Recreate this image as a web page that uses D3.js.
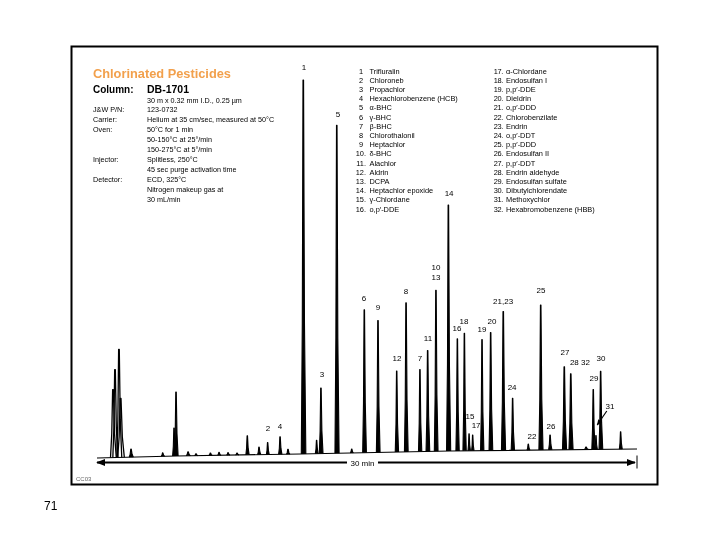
<!DOCTYPE html>
<html>
<head>
<meta charset="utf-8">
<script src="https://d3js.org/d3.v7.min.js"></script>
<style>
  body { margin: 0; background: #fff; }
  svg { will-change: transform; }
  text { font-family: Arial, "Liberation Sans", sans-serif; fill: #000; }
</style>
</head>
<body>
<div id="chart"></div>
<script>
// peaks: retention time (min), response above baseline, half width (min)
var peakTimes   = [0.89, 1.00, 1.22, 1.31, 1.89, 3.65, 4.28, 4.39, 5.06, 5.5, 6.3, 6.78, 7.28, 7.78,
                   8.35, 9.00, 9.48, 10.17, 10.61, 11.46, 12.20, 12.44, 13.32, 14.15, 14.85, 15.61,
                   16.65, 17.17, 17.94, 18.37, 18.83, 19.52, 20.02, 20.41, 20.67, 20.87, 21.39, 21.87,
                   22.57, 23.09, 23.96, 24.65, 25.17, 25.96, 26.32, 27.17, 27.57, 27.72, 27.98, 29.09];
var peakHeights = [68, 88, 108, 59, 8, 3.5, 28, 64, 4, 2, 2.5, 3, 2.5, 2,
                   19, 7.5, 12, 17.5, 5, 374, 13.5, 65.5, 328, 4, 143, 132,
                   81, 149, 82, 101, 161, 246, 112, 117.5, 17, 15.7, 111, 118,
                   139, 52, 6, 145, 15, 83, 76, 2.5, 60, 14, 78, 17.4];
var peakWidths  = [0.14, 0.12, 0.12, 0.16, 0.10, 0.08, 0.08, 0.09, 0.10, 0.08, 0.08, 0.08, 0.08, 0.08,
                   0.08, 0.08, 0.07, 0.08, 0.08, 0.11, 0.07, 0.09, 0.10, 0.07, 0.09, 0.09,
                   0.08, 0.09, 0.08, 0.09, 0.09, 0.10, 0.08, 0.08, 0.06, 0.06, 0.08, 0.09,
                   0.10, 0.08, 0.07, 0.10, 0.08, 0.10, 0.10, 0.10, 0.08, 0.06, 0.09, 0.07];
var solventEnd = 1.5; // solvent front, min

// baseline drift
var baseTimes  = [0, 4.4, 11.3, 19.6, 30];
var baseLevels = [0, 2, 4, 7, 9];

// peak labels (time, level)
var labelTexts  = ["1", "2", "4", "3", "5", "6", "9", "12", "8", "7", "11", "10", "13", "14", "16", "18",
                   "15", "17", "19", "20", "21,23", "24", "22", "25", "26", "27", "28 32", "29", "30", "31"];
var labelTimes  = [11.5, 9.5, 10.17, 12.5, 13.39, 14.83, 15.61, 16.67, 17.17, 17.94, 18.39, 18.83, 18.83, 19.56, 20.0, 20.39,
                   20.72, 21.06, 21.39, 21.94, 22.56, 23.06, 24.17, 24.67, 25.22, 26.0, 26.83, 27.61, 28.0, 28.5];
var labelLevels = [388, 27, 29, 81, 341, 157, 148, 97, 164, 97, 117, 188, 178, 262, 127, 134,
                   39, 30, 126, 134, 154, 68, 19, 165, 29, 103, 93, 77, 97, 49];
var arrowTimes  = [28.32, 27.79];
var arrowLevels = [47, 33];

var compoundNames = ["Trifluralin", "Chloroneb", "Propachlor", "Hexachlorobenzene (HCB)", "\u03b1-BHC", "\u03b3-BHC",
  "\u03b2-BHC", "Chlorothalonil", "Heptachlor", "\u03b4-BHC", "Alachlor", "Aldrin", "DCPA", "Heptachlor epoxide",
  "\u03b3-Chlordane", "o,p\u2032-DDE", "\u03b1-Chlordane", "Endosulfan I", "p,p\u2032-DDE", "Dieldrin", "o,p\u2032-DDD",
  "Chlorobenzilate", "Endrin", "o,p\u2032-DDT", "p,p\u2032-DDD", "Endosulfan II", "p,p\u2032-DDT", "Endrin aldehyde",
  "Endosulfan sulfate", "Dibutylchlorendate", "Methoxychlor", "Hexabromobenzene (HBB)"];

var infoKeys   = ["", "J&W P/N:", "Carrier:", "Oven:", "", "", "Injector:", "", "Detector:", "", ""];
var infoValues = ["30 m x 0.32 mm I.D., 0.25 \u00b5m", "123-0732", "Helium at 35 cm/sec, measured at 50\u00b0C",
  "50\u00b0C for 1 min", "50-150\u00b0C at 25\u00b0/min", "150-275\u00b0C at 5\u00b0/min", "Splitless, 250\u00b0C",
  "45 sec purge activation time", "ECD, 325\u00b0C", "Nitrogen makeup gas at", "30 mL/min"];

var runMinutes = 30;

var svg = d3.select("#chart").append("svg")
    .attr("width", 720)
    .attr("height", 540);

svg.append("rect")
    .attr("x", 71.5).attr("y", 46.5)
    .attr("width", 586).attr("height", 438)
    .style("fill", "none")
    .style("stroke", "#000")
    .style("stroke-width", 2);

var x = d3.scaleLinear().domain([0, runMinutes]).range([97, 637]);
var y = d3.scaleLinear().domain([0, 380]).range([458, 78]);
var base = d3.scaleLinear().domain(baseTimes).range(baseLevels);

var line = d3.line()
    .x(function(d) { return x(d[0]); })
    .y(function(d) { return y(d[1]); });

// baseline
svg.append("path")
    .attr("d", line(baseTimes.map(function(t, i) { return [t, baseLevels[i]]; })))
    .style("fill", "none")
    .style("stroke", "#000")
    .style("stroke-width", 1.2);

// peaks
var peaks = peakTimes.map(function(t, i) {
  return { t: t, h: peakHeights[i], w: peakWidths[i] };
});

svg.selectAll(".peak")
    .data(peaks).enter()
    .append("path")
    .attr("class", "peak")
    .attr("d", function(d) {
      var b = base(d.t);
      return line([
        [d.t - d.w, b],
        [d.t - 0.5 * d.w, b + 0.35 * d.h],
        [d.t - 0.15 * d.w, b + d.h],
        [d.t + 0.15 * d.w, b + d.h],
        [d.t + 0.6 * d.w, b + 0.35 * d.h],
        [d.t + 1.3 * d.w, b]
      ]);
    })
    .style("fill", function(d) { return d.t < solventEnd ? "none" : "#000"; })
    .style("stroke", "#000")
    .style("stroke-width", function(d) { return d.t < solventEnd ? 1.3 : 1.1; })
    .style("stroke-linejoin", "round");

// peak labels
svg.selectAll(".plabel")
    .data(labelTexts).enter()
    .append("text")
    .attr("class", "plabel")
    .attr("x", function(d, i) { return x(labelTimes[i]); })
    .attr("y", function(d, i) { return y(labelLevels[i]); })
    .attr("text-anchor", "middle")
    .style("font-size", "8px")
    .text(function(d) { return d; });

svg.append("defs").append("marker")
    .attr("id", "head")
    .attr("viewBox", "0 0 10 10")
    .attr("refX", 9).attr("refY", 5)
    .attr("markerWidth", 5).attr("markerHeight", 5)
    .attr("orient", "auto-start-reverse")
    .append("path")
    .attr("d", "M0,1L10,5L0,9Z")
    .style("fill", "#000");

svg.append("line")
    .attr("x1", x(arrowTimes[0])).attr("y1", y(arrowLevels[0]))
    .attr("x2", x(arrowTimes[1])).attr("y2", y(arrowLevels[1]))
    .style("stroke", "#000")
    .style("stroke-width", 1.2)
    .attr("marker-end", "url(#head)");

// time arrow
var ay = 462.5;
svg.append("line")
    .attr("x1", x(0)).attr("y1", ay)
    .attr("x2", x(runMinutes) - 2).attr("y2", ay)
    .style("stroke", "#000")
    .style("stroke-width", 1.8)
    .attr("marker-end", "url(#head)")
    .attr("marker-start", "url(#head)");

svg.append("line")
    .attr("x1", x(runMinutes)).attr("y1", ay - 7)
    .attr("x2", x(runMinutes)).attr("y2", ay + 6)
    .style("stroke", "#000")
    .style("stroke-width", 1);

svg.append("rect")
    .attr("x", x(runMinutes / 2) - 20).attr("y", ay - 5)
    .attr("width", 31).attr("height", 10)
    .style("fill", "#fff");
svg.append("text")
    .attr("x", x(runMinutes / 2) - 4.5).attr("y", ay + 3)
    .attr("text-anchor", "middle")
    .style("font-size", "8px")
    .text(runMinutes + " min");

// header
svg.append("text")
    .attr("x", 93).attr("y", 78)
    .style("font-size", "12.8px")
    .style("font-weight", "bold")
    .style("fill", "#f2a04c")
    .text("Chlorinated Pesticides");
svg.append("text")
    .attr("x", 93).attr("y", 93)
    .style("font-size", "10px")
    .style("font-weight", "bold")
    .text("Column:");
svg.append("text")
    .attr("x", 147).attr("y", 93)
    .style("font-size", "10.5px")
    .style("font-weight", "bold")
    .text("DB-1701");

infoValues.forEach(function(v, i) {
  var yy = 102.5 + i * 9.9;
  svg.append("text").attr("x", 93).attr("y", yy)
      .style("font-size", "7.2px").text(infoKeys[i]);
  svg.append("text").attr("x", 147).attr("y", yy)
      .style("font-size", "7.2px").text(v);
});

// compound list
compoundNames.forEach(function(name, i) {
  var col = i < 16 ? 0 : 1,
      row = i % 16,
      yy = 73.5 + row * 9.2,
      n = i + 1;
  if (col === 0) {
    svg.append("text")
        .attr("x", n < 10 ? 363 : 366).attr("y", yy)
        .attr("text-anchor", "end")
        .style("font-size", "7.4px")
        .text(n < 10 ? n : n + ".");
    svg.append("text").attr("x", 369.5).attr("y", yy)
        .style("font-size", "7.4px").text(name);
  } else {
    svg.append("text").attr("x", 503).attr("y", yy)
        .attr("text-anchor", "end")
        .style("font-size", "7.4px")
        .style("letter-spacing", "-0.3px")
        .text(n + ".");
    svg.append("text").attr("x", 506).attr("y", yy)
        .style("font-size", "7.4px").text(name);
  }
});

svg.append("text")
    .attr("x", 76).attr("y", 481)
    .style("font-size", "6px")
    .style("fill", "#666")
    .text("CC03");

svg.append("text")
    .attr("x", 44).attr("y", 510)
    .style("font-size", "12px")
    .text("71");
</script>
</body>
</html>
